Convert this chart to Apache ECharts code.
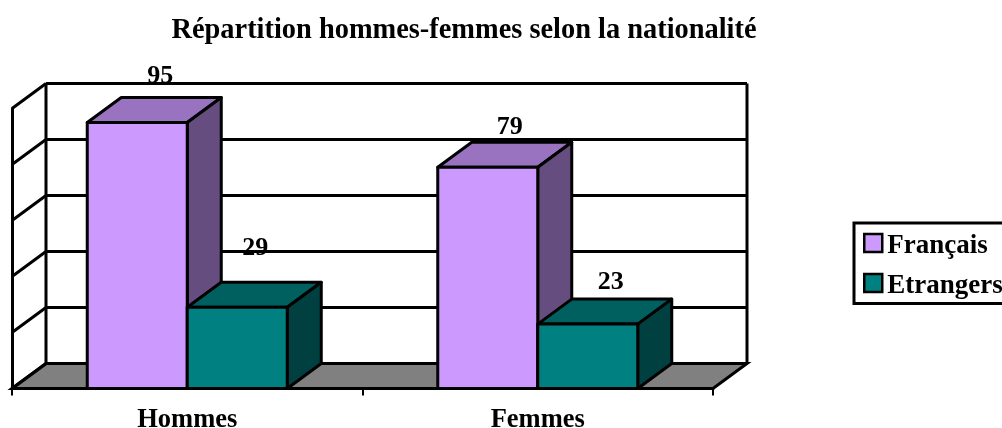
<!DOCTYPE html>
<html><head><meta charset="utf-8">
<style>html,body{margin:0;padding:0;background:#fff}#c{width:1002px;height:428px}</style>
<script src="https://cdn.jsdelivr.net/npm/echarts@6/dist/echarts.min.js"></script>
</head><body><div id="c"></div>
<script>
const categories = ['Hommes', 'Femmes'];
const francais = [95, 79];
const etrangers = [29, 23];
const yTicks = [0, 20, 40, 60, 80, 100];

const DX = 34, DY = -25, FONT = '"Liberation Serif","Times New Roman",serif';
const BAR_RATIO = 100 / 350.5;
const LW = 3;
// hand placement of the value labels, middle of the digits relative to the centre of the bar's top-back edge
const nudges = {Français: [{x: 6, y: -21.5}, {x: 5, y: -15.5}], Etrangers: [{x: 1, y: -34.5}, {x: 6, y: -16.5}]};

function bar3d(name, values, colors, side) {
  return {
    type: 'custom', name, z: 3,
    itemStyle: {color: colors[0]},
    data: values.map((v, i) => [i, v]),
    renderItem(params, api) {
      const i = api.value(0), v = api.value(1);
      const c = api.coord([i, v]), b = api.coord([i, 0]);
      const bw = api.size([1, 0])[0] * BAR_RATIO;
      const x0 = side < 0 ? c[0] - bw : c[0], x1 = x0 + bw, t = c[1], y0 = b[1];
      const line = {stroke: '#000', lineWidth: LW, lineJoin: 'round'};
      const n = nudges[name][i];
      return {type: 'group', children: [
        {type: 'polygon', shape: {points: [[x0, t], [x0 + DX, t + DY], [x1 + DX, t + DY], [x1, t]]}, style: {fill: colors[1], ...line}},
        {type: 'polygon', shape: {points: [[x1, t], [x1 + DX, t + DY], [x1 + DX, y0 + DY], [x1, y0]]}, style: {fill: colors[2], ...line}},
        {type: 'rect', shape: {x: x0, y: t, width: bw, height: y0 - t}, style: {fill: colors[0], ...line}},
        {type: 'text', x: (x0 + x1) / 2 + DX / 2 + n.x, y: t + DY + n.y, z2: 50,
          style: {text: String(v), fill: '#000', font: 'bold 26px ' + FONT, align: 'center', verticalAlign: 'middle'}}
      ]};
    }
  };
}

const walls = {
  type: 'custom', silent: true, z: 1,
  data: yTicks.map(t => [0, t]),
  renderItem(params, api) {
    const g = params.coordSys, v = api.value(1);
    const y = api.coord([0, v])[1], xl = g.x, xr = g.x + g.width;
    const s = {stroke: '#000', lineWidth: LW};
    const kids = [
      {type: 'line', shape: {x1: xl, y1: y, x2: xl + DX, y2: y + DY}, style: s},
      {type: 'line', shape: {x1: xl + DX, y1: y + DY, x2: xr + DX, y2: y + DY}, style: s}
    ];
    if (v === 0) {
      kids.unshift({type: 'polygon', shape: {points: [[xl, y], [xl + DX, y + DY], [xr + DX, y + DY], [xr, y]]}, style: {fill: '#808080', ...s}});
      const top = api.coord([0, yTicks[yTicks.length - 1]])[1];
      kids.push({type: 'line', shape: {x1: xl + DX, y1: y + DY, x2: xl + DX, y2: top + DY}, style: s});
      kids.push({type: 'line', shape: {x1: xr + DX, y1: y + DY, x2: xr + DX, y2: top + DY}, style: s});
    }
    return {type: 'group', children: kids};
  }
};

const chart = echarts.init(document.getElementById('c'), null, {renderer: 'canvas'});
chart.setOption({
  animation: false,
  backgroundColor: '#fff',
  title: {text: 'Répartition hommes-femmes selon la nationalité', left: 459, top: 12, textAlign: 'center',
    textStyle: {fontFamily: FONT, fontWeight: 'bold', fontSize: 28.4, color: '#000'}},
  grid: {left: 12, top: 108.5, width: 701, height: 280, containLabel: false, outerBoundsMode: 'none'},
  xAxis: {type: 'category', data: categories,
    axisLine: {lineStyle: {color: '#000', width: LW}},
    axisTick: {show: true, length: 7, lineStyle: {color: '#000', width: 2}},
    axisLabel: {color: '#000', fontFamily: FONT, fontWeight: 'bold', fontSize: 26.5, margin: 18},
    splitLine: {show: false}},
  yAxis: {type: 'value', min: 0, max: 100, interval: 20,
    axisLine: {show: true, lineStyle: {color: '#000', width: LW}},
    axisTick: {show: false}, axisLabel: {show: false}, splitLine: {show: false}},
  legend: {orient: 'vertical', left: 854, top: 223, padding: [9.5, 4, 4, 9], itemGap: 13, itemWidth: 18, itemHeight: 18,
    borderColor: '#000', borderWidth: 3, borderRadius: 0, selectedMode: false, icon: 'rect', align: 'left',
    itemStyle: {borderColor: '#000', borderWidth: 2.5},
    formatter: '{a|{name}}',
    textStyle: {color: '#000', rich: {a: {color: '#000', fontFamily: FONT, fontWeight: 'bold', fontSize: 27, padding: [6, 0, 0, 0]}}},
    data: ['Français', 'Etrangers']},
  series: [
    walls,
    bar3d('Français', francais, ['#CC99FF', '#9973BF', '#664D80'], -1),
    bar3d('Etrangers', etrangers, ['#008080', '#006060', '#004040'], 1)
  ]
});
</script></body></html>
